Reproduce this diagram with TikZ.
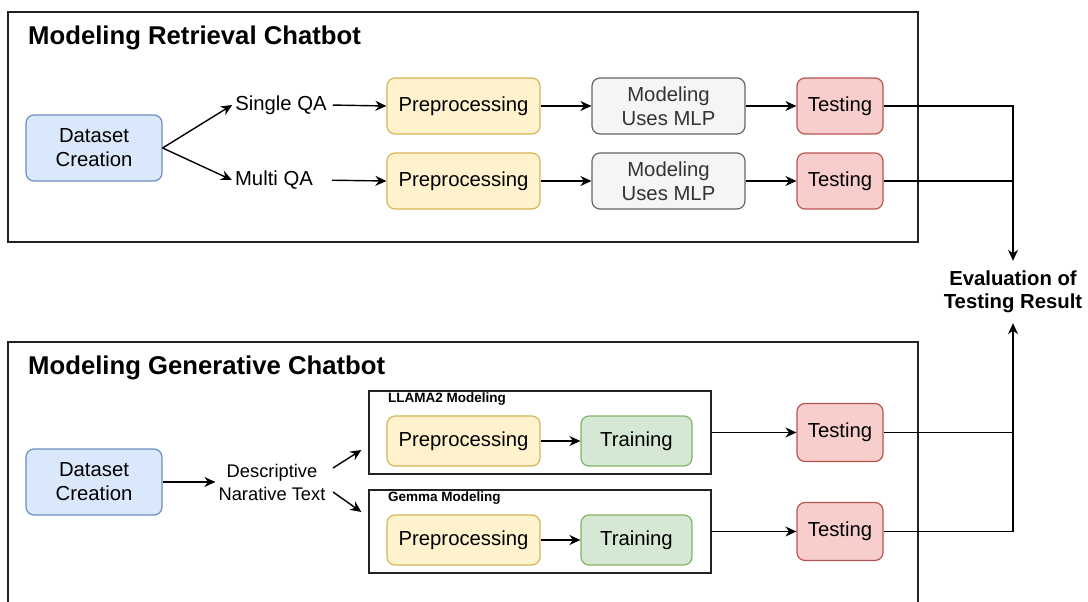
\documentclass[tikz,border=0pt]{standalone}
\usepackage{fontspec}
\setmainfont{Liberation Sans}
\usetikzlibrary{arrows.meta,calc}
\definecolor{blueF}{RGB}{218,232,252}\definecolor{blueD}{RGB}{108,142,191}
\definecolor{yelF}{RGB}{255,242,204}\definecolor{yelD}{RGB}{214,182,86}
\definecolor{grayF}{RGB}{245,245,245}\definecolor{grayD}{RGB}{102,102,102}\definecolor{grayT}{RGB}{51,51,51}
\definecolor{redF}{RGB}{248,206,204}\definecolor{redD}{RGB}{184,84,80}
\definecolor{grnF}{RGB}{213,232,212}\definecolor{grnD}{RGB}{130,179,102}
\definecolor{frame}{RGB}{34,34,34}
\tikzset{
  txt/.style={font=\fontsize{20.3}{24}\selectfont, align=center, inner sep=3pt},
  card/.style={txt, rounded corners=8pt, line width=1.2pt, minimum width=#1},
  bluebox/.style={card=136pt, minimum height=66pt, fill=blueF, draw=blueD},
  yelbox/.style={card=153pt, fill=yelF, draw=yelD},
  graybox/.style={card=153pt, minimum height=56pt, fill=grayF, draw=grayD, text=grayT},
  redbox/.style={card=86pt, fill=redF, draw=redD},
  grnbox/.style={card=111pt, minimum height=50pt, fill=grnF, draw=grnD},
  group/.style={draw=frame, line width=1.3pt, minimum width=342pt, minimum height=83pt, inner sep=0pt},
  grouplabel/.style={font=\bfseries\fontsize{13.5}{15}\selectfont, anchor=north west, inner sep=0pt},
  heading/.style={font=\bfseries\fontsize{25.7}{29}\selectfont, anchor=west, inner sep=0pt},
  link/.style={line width=1.4pt, draw=black},
  arr/.style={link, -{Stealth[length=11pt,width=10pt]}},
}
\begin{document}
\begin{tikzpicture}[x=1pt,y=-1pt]
\useasboundingbox (0,0) rectangle (1088,602);

% ---- retrieval chatbot panel ----
\draw[draw=frame, line width=1.3pt] (8,12) rectangle (918,242);
\node[heading] (h1) at (28,38) {Modeling Retrieval Chatbot};

\node[bluebox] (ds1) at (94,148) {Dataset\\Creation};
\node[txt] (sqa) at (281,105) {Single QA};
\node[txt] (mqa) at (274,180) {Multi QA};
\node[yelbox, minimum height=56pt] (pre1) at (463.5,106) {Preprocessing};
\node[yelbox, minimum height=56pt] (pre2) at (463.5,181) {Preprocessing};
\node[graybox] (mlp1) at (668.5,106) {Modeling\\Uses MLP};
\node[graybox] (mlp2) at (668.5,181) {Modeling\\Uses MLP};
\node[redbox, minimum height=56pt] (t1) at (840,106) {Testing};
\node[redbox, minimum height=56pt] (t2) at (840,181) {Testing};

\draw[arr] (ds1.east) -- (sqa.west);
\draw[arr] (ds1.east) -- (mqa.west);
\draw[arr, shorten <=3pt] (sqa.east) -- (pre1.west);
\draw[arr, shorten <=16pt] (mqa.east) -- (pre2.west);
\draw[arr] (pre1.east) -- (mlp1.west);
\draw[arr] (pre2.east) -- (mlp2.west);
\draw[arr] (mlp1.east) -- (t1.west);
\draw[arr] (mlp2.east) -- (t2.west);

% ---- evaluation ----
\node[font=\bfseries\fontsize{20.3}{23}\selectfont, align=center, inner xsep=2pt, inner ysep=10pt] (ev) at (1013,292) {Evaluation of\\Testing Result};
\draw[arr] (t1.east) -| (ev.north);
\draw[link] (t2.east) -- (t2.east -| ev.north);

% ---- generative chatbot panel ----
\draw[draw=frame, line width=1.3pt] (8,604) -- (8,342) -- (918,342) -- (918,604);
\node[heading] (h2) at (28,368) {Modeling Generative Chatbot};

\node[bluebox] (ds2) at (94,482) {Dataset\\Creation};
\node[txt, font=\fontsize{18.3}{23}\selectfont] (desc) at (272,482) {Descriptive\\Narative Text};

\node[group] (llama) at (540,432.5) {};
\node[grouplabel] (llamalbl) at (388,393) {LLAMA2 Modeling};
\node[group] (gemma) at (540,531.5) {};
\node[grouplabel] (gemmalbl) at (388,492) {Gemma Modeling};

\node[yelbox, minimum height=50pt] (pre3) at (463.5,441) {Preprocessing};
\node[grnbox] (tr1) at (636.5,441) {Training};
\node[yelbox, minimum height=50pt] (pre4) at (463.5,540) {Preprocessing};
\node[grnbox] (tr2) at (636.5,540) {Training};
\node[redbox, minimum height=58pt] (t3) at (840,432.5) {Testing};
\node[redbox, minimum height=58pt] (t4) at (840,531.5) {Testing};

\draw[arr] (ds2.east) -- (desc.west);
\draw[arr] ($(desc.center)+(61,-14)$) -- ($(llama.west)+(-7,17.5)$);
\draw[arr] ($(desc.center)+(61,10)$) -- ($(gemma.west)+(-7,-19.5)$);
\draw[arr] (pre3.east) -- (tr1.west);
\draw[arr] (pre4.east) -- (tr2.west);
\draw[arr] (llama.east) -- (t3.west);
\draw[arr] (gemma.east) -- (t4.west);

\draw[arr] (t4.east) -| (ev.south);
\draw[link] (t3.east) -- (t3.east -| ev.south);
\end{tikzpicture}
\end{document}
